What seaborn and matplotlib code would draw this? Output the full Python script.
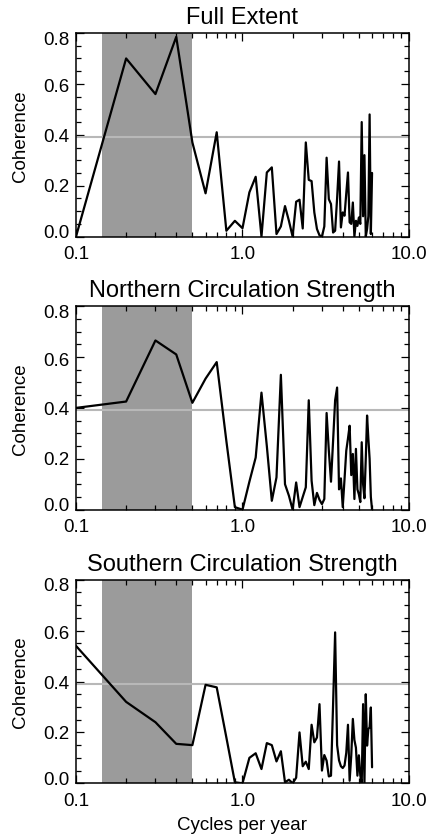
import numpy as np
import pandas as pd
import matplotlib
matplotlib.use("Agg")
import matplotlib.pyplot as plt
import matplotlib.ticker as mticker
import matplotlib.transforms as mtransforms
import seaborn as sns

# ---------------- data ----------------
freq = [0.1, 0.2, 0.3, 0.4, 0.5, 0.6, 0.7, 0.8, 0.9, 1.0,
        1.1, 1.2, 1.3, 1.4, 1.5, 1.6, 1.7, 1.8, 1.9, 2.0,
        2.1, 2.2, 2.3, 2.4, 2.5, 2.6, 2.7, 2.8, 2.9, 3.0,
        3.1, 3.2, 3.3, 3.4, 3.5, 3.6, 3.7, 3.8, 3.9, 4.0,
        4.1, 4.2, 4.3, 4.4, 4.5, 4.6, 4.7, 4.8, 4.9, 5.0,
        5.1, 5.2, 5.3, 5.4, 5.5, 5.6, 5.7, 5.8, 5.9, 6.0]

full_extent = [0.0, 0.70, 0.56, 0.785, 0.37, 0.17, 0.41, 0.023, 0.062, 0.033,
               0.174, 0.235, 0.0, 0.252, 0.272, 0.01, 0.04, 0.12, 0.062, 0.0,
               0.137, 0.145, 0.032, 0.37, 0.223, 0.218, 0.095, 0.03, 0.005, 0.0,
               0.04, 0.31, 0.147, 0.128, 0.016, 0.023, 0.15, 0.295, 0.036, 0.095,
               0.082, 0.17, 0.252, 0.056, 0.05, 0.134, 0.0, 0.062, 0.042, 0.075,
               0.05, 0.45, 0.08, 0.32, 0.0, 0.03, 0.08, 0.48, 0.01, 0.25]

northern = [0.40, 0.425, 0.665, 0.61, 0.42, 0.515, 0.58, 0.27, 0.01, 0.0,
            0.11, 0.205, 0.46, 0.25, 0.035, 0.127, 0.53, 0.10, 0.055, 0.0,
            0.107, 0.01, 0.05, 0.088, 0.43, 0.114, 0.018, 0.066, 0.039, 0.022,
            0.042, 0.38, 0.232, 0.11, 0.27, 0.43, 0.48, 0.08, 0.123, 0.01,
            0.12, 0.232, 0.28, 0.33, 0.136, 0.219, 0.042, 0.239, 0.08, 0.06,
            0.03, 0.265, 0.10, 0.045, 0.20, 0.37, 0.28, 0.20, 0.05, 0.0]

southern = [0.54, 0.32, 0.24, 0.155, 0.15, 0.387, 0.377, 0.18, 0.004, 0.0,
            0.10, 0.118, 0.056, 0.158, 0.15, 0.086, 0.126, 0.004, 0.014, 0.0,
            0.022, 0.20, 0.067, 0.085, 0.056, 0.23, 0.161, 0.18, 0.311, 0.05,
            0.111, 0.089, 0.027, 0.03, 0.31, 0.593, 0.15, 0.09, 0.067, 0.06,
            0.07, 0.12, 0.23, 0.01, 0.11, 0.253, 0.17, 0.14, 0.03, 0.11,
            0.03, 0.0, 0.311, 0.0, 0.35, 0.148, 0.213, 0.22, 0.298, 0.063]

titles = ["Full Extent", "Northern Circulation Strength", "Southern Circulation Strength"]
band = [1 / 7, 1 / 2]          # 2-7 year band (cycles per year)
threshold = 0.39               # significance level
yticks = [0.0, 0.2, 0.4, 0.6, 0.8]
ytick_labels = ["0.0", "0.2", "0.4", "0.6", "0.8"]
xticks = [0.1, 1.0, 10.0]
xtick_labels = ["0.1", "1.0", "10.0"]

# ---------------- style ----------------
sns.set_theme(style="ticks")
plt.rcParams["font.family"] = ["Liberation Sans", "DejaVu Sans"]
plt.rcParams["axes.linewidth"] = 1.1
plt.rcParams["axes.edgecolor"] = "black"

W, H = 431, 837
fig = plt.figure(figsize=(W / 100, H / 100), dpi=100)

left_px, right_px = 76, 409
tops = [34.0, 307.1, 580.7]
ph = 203.6
# vertical nudges (px, positive = down) of the y tick labels, as in the original
label_nudge = [-6, -1, 0, 1, 4]

series = [full_extent, northern, southern]
for i, (name, vals) in enumerate(zip(titles, series)):
    top = tops[i]
    ax = fig.add_axes([left_px / W, 1 - (top + ph) / H,
                       (right_px - left_px) / W, ph / H])
    df = pd.DataFrame({"freq": freq, "coh": vals})
    ax.axvspan(band[0], band[1], color="#9b9b9b", lw=0, zorder=0)
    ax.axhline(threshold, color="#b8b8b8", lw=1.5, zorder=1)
    sns.lineplot(data=df, x="freq", y="coh", ax=ax, color="black",
                 lw=1.6, zorder=3, estimator=None, sort=False)
    ax.set_xscale("log")
    ax.set_xlim(0.1, 10.0)
    ax.set_ylim(0.0, 0.8)
    ax.set_xticks(xticks)
    ax.set_xticklabels(xtick_labels)
    ax.xaxis.set_minor_locator(mticker.LogLocator(base=10, subs=np.arange(2, 10)))
    ax.xaxis.set_minor_formatter(mticker.NullFormatter())
    ax.set_yticks(yticks)
    ax.set_yticklabels(ytick_labels)
    ax.yaxis.set_minor_locator(mticker.MultipleLocator(0.05))
    ax.tick_params(which="both", direction="in", top=True, right=True,
                   color="black", width=0.9, labelsize=13.5, labelcolor="black")
    ax.tick_params(which="major", length=6)
    ax.tick_params(which="minor", length=3.5)
    ax.tick_params(axis="x", which="major", pad=6)
    ax.tick_params(axis="y", which="major", pad=5)
    for lab, dy in zip(ax.get_yticklabels(), label_nudge):
        off = mtransforms.ScaledTranslation(0, -dy / 100, fig.dpi_scale_trans)
        lab.set_transform(lab.get_transform() + off)
    for sp in ax.spines.values():
        sp.set_visible(True)
        sp.set_color("black")
    ax.set_title(name, fontsize=17, pad=7, color="black")
    ax.set_ylabel("Coherence", fontsize=13.5, color="black")
    ax.yaxis.set_label_coords(-0.14, 0.5)
    if i == 2:
        ax.set_xlabel("Cycles per year", fontsize=13.5, color="black")
        ax.xaxis.set_label_coords(0.5, -0.16)
    else:
        ax.set_xlabel("")
    ax.set_facecolor("white")

fig.savefig("out.png", dpi=100, facecolor="white")
